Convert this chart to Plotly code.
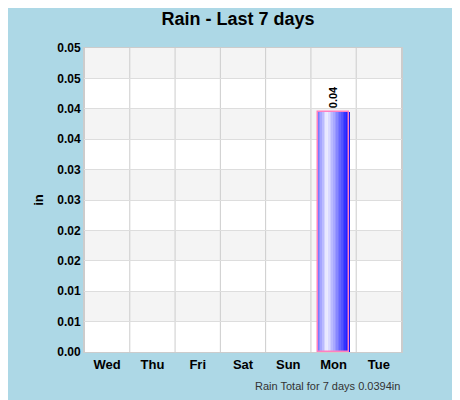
import plotly.graph_objects as go

days = ["Wed", "Thu", "Fri", "Sat", "Sun", "Mon", "Tue"]
rain = [None, None, None, None, None, 0.0394, None]
labels = ["", "", "", "", "", "0.04", ""]
tickvals = [0, 0.005, 0.01, 0.015, 0.02, 0.025, 0.03, 0.035, 0.04, 0.045, 0.05]
ticktext = ["0.00", "0.01", "0.01", "0.02", "0.02", "0.03", "0.03", "0.04", "0.04", "0.05", "0.05"]

FONT = "Liberation Sans, Arial, sans-serif"
fig = go.Figure()
for i in range(0, 10, 2):
    fig.add_shape(type="rect", xref="paper", yref="y", x0=0, x1=1,
                  y0=tickvals[i + 1], y1=tickvals[i + 2],
                  fillcolor="#f4f4f4", line_width=0, layer="below")

W = 0.7
N = 20
def col(t):
    if t < 0.3:
        s = t / 0.3
        a = (110, 110, 255); b = (245, 245, 255)
    else:
        s = (t - 0.3) / 0.7
        a = (245, 245, 255); b = (10, 10, 255)
    return "rgb(%d,%d,%d)" % tuple(int(a[k] + (b[k] - a[k]) * s) for k in range(3))

for j in range(N):
    t = (j + 0.5) / N
    fig.add_trace(go.Bar(x=days, y=rain, width=W / N + 0.002,
                         offset=-W / 2 + j * W / N,
                         marker=dict(color=col(t), line_width=0),
                         showlegend=False, hoverinfo="skip"))
fig.add_trace(go.Bar(x=days, y=rain, width=W, offset=-W / 2,
                     marker=dict(color="rgba(0,0,0,0)", line=dict(color="#ff80c0", width=1.5)),
                     text=["<b>%s</b>" % l if l else "" for l in labels],
                     textposition="outside", textangle=-90,
                     textfont=dict(size=11, color="black", family=FONT),
                     cliponaxis=False, showlegend=False))

fig.update_layout(
    width=460, height=400, barmode="overlay", bargap=0,
    paper_bgcolor="#add8e6", plot_bgcolor="white",
    margin=dict(l=76, r=66, t=40, b=56, autoexpand=False),
    font=dict(family=FONT, color="black"),
    title=dict(text="<b>Rain - Last 7 days</b>", x=0.5, xanchor="center", y=0.99, yanchor="top",
               font=dict(size=18)),
    showlegend=False,
    annotations=[dict(text="Rain Total for 7 days 0.0394in", xref="paper", yref="paper",
                      x=1, y=-0.085, xanchor="right", yanchor="top", showarrow=False,
                      font=dict(size=11, color="#333"))],
)
fig.update_xaxes(showgrid=False, tickfont=dict(size=13), ticks="", automargin=False,
                 tickprefix="<b>", ticksuffix="</b>", showline=True, linecolor="#ccc", mirror=True)
for i in range(len(days) + 1):
    fig.add_shape(type="line", xref="x", yref="paper", x0=i - 0.5, x1=i - 0.5, y0=0, y1=1,
                  line=dict(color="#cccccc", width=1), layer="below")
fig.update_yaxes(range=[0, 0.05], tickvals=tickvals, ticktext=["<b>%s</b>" % t for t in ticktext],
                 gridcolor="#dddddd", zeroline=False, tickfont=dict(size=12), automargin=False,
                 title=dict(text="<b>in</b>", font=dict(size=13), standoff=10),
                 showline=True, linecolor="#ccc", mirror=True)
fig.write_html("out.html")
